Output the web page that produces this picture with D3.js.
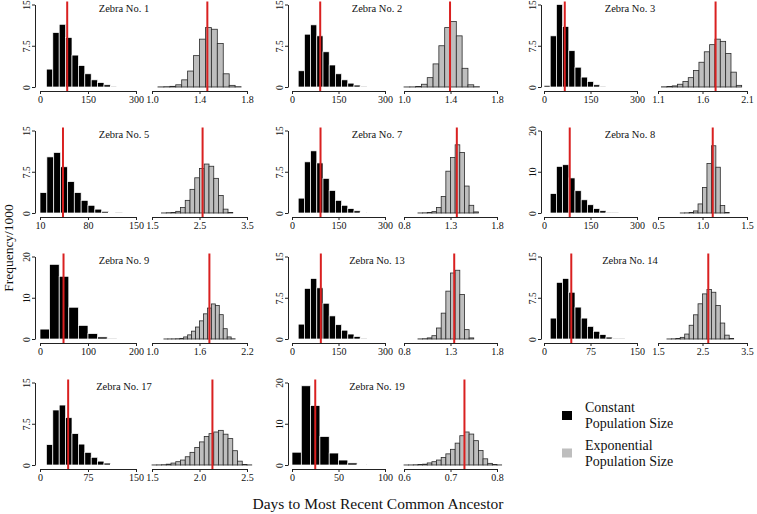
<!DOCTYPE html>
<html><head><meta charset="utf-8">
<script src="https://cdn.jsdelivr.net/npm/d3@7"></script>
<style>
body{margin:0;background:#fff}
svg{display:block}
text{font-family:"Liberation Serif","DejaVu Serif",serif;fill:#111}
</style>
</head><body><svg id="c" width="757" height="514"></svg>
<script>
const zebraNames = ["Zebra No. 1","Zebra No. 2","Zebra No. 3","Zebra No. 5","Zebra No. 7","Zebra No. 8","Zebra No. 9","Zebra No. 13","Zebra No. 14","Zebra No. 17","Zebra No. 19"];
const yTickLabels = [["0","7.5","15"],["0","7.5","15"],["0","7.5","15"],["0","7.5","15"],["0","7.5","15"],["0","10","20"],["0","10","20"],["0","7.5","15"],["0","7.5","15"],["0","7.5","15"],["0","10","20"]];
const constTickLabels = [["0","150","300"],["0","150","300"],["0","150","300"],["10","80","150"],["0","150","300"],["0","150","300"],["0","100","200"],["0","150","300"],["0","75","150"],["0","75","150"],["0","50","100"]];
const expTickLabels = [["1.0","1.4","1.8"],["1.0","1.4","1.8"],["1.1","1.6","2.1"],["1.5","2.5","3.5"],["0.8","1.3","1.8"],["0.5","1.0","1.5"],["1.0","1.6","2.2"],["0.8","1.3","1.8"],["1.5","2.5","3.5"],["1.5","2.0","2.5"],["0.6","0.7","0.8"]];
const constBinStart = [20,20,0,10,20,20,0,20,10,10,0];
const constBinWidth = [20,20,20,10,20,20,20,20,10,10,10];
const constCounts = [
  [3.25,9.9,11.4,9.0,5.8,3.9,2.4,1.3,0.8,0.4,0.15],
  [2.95,9.6,11.3,9.3,6.4,4.0,2.4,1.3,0.7,0.35,0.15],
  [0.3,9.3,15.0,11.0,6.6,3.6,1.8,1.0,0.4,0.15],
  [3.7,10.2,11.0,8.4,5.7,3.7,2.3,1.4,0.7,0.3,0.1,0.05],
  [2.7,9.3,11.3,9.1,6.3,4.1,2.3,1.4,0.8,0.4,0.1],
  [4.7,11.3,11.7,8.5,5.4,3.2,2.0,1.05,0.55,0.2,0.05],
  [2.4,18.1,15.2,7.7,3.3,1.3,0.5,0.05],
  [2.7,9.2,11.0,9.3,6.5,4.2,2.6,1.6,0.9,0.45,0.15],
  [3.8,10.3,11.0,8.5,5.8,3.8,2.3,1.4,0.8,0.35,0.15,0.05],
  [3.7,10.0,10.9,8.6,5.7,3.8,2.3,1.4,0.7,0.35,0.1],
  [3.1,19.2,14.4,6.9,2.9,1.2,0.5,0.15]
];
const expBinStart = [1.05,1.0,1.14,1.7,0.95,0.75,1.15,0.95,1.7,1.5,0.6];
const expBinWidth = [0.05,0.05,0.06,0.1,0.05,0.05,0.05,0.05,0.1,0.05,0.01];
const expCounts = [
  [0.02,0.05,0.12,0.4,1.3,2.9,5.7,8.7,10.8,10.5,7.9,2.4,0.3,0.05],
  [0.01,0.02,0.1,0.5,1.7,4.2,7.5,10.8,11.9,9.3,3.4,0.4,0.05],
  [0.03,0.08,0.2,0.5,1.0,1.7,3.0,4.5,6.4,7.7,8.7,8.3,6.1,2.7,0.3],
  [0.01,0.05,0.1,0.3,1.0,2.3,4.3,6.4,8.1,8.9,8.5,6.3,3.2,0.7,0.1],
  [0.01,0.03,0.08,0.25,1.0,3.0,7.6,10.1,12.4,11.0,4.9,1.4,0.2],
  [0.01,0.03,0.1,0.5,2.2,6.2,12.0,16.3,11.1,1.8,0.1],
  [0.01,0.02,0.03,0.06,0.15,0.5,1.0,1.9,2.9,4.4,6.1,7.5,8.5,8.1,5.9,2.5,0.5,0.05],
  [0.02,0.05,0.2,0.6,2.0,4.7,8.7,12.0,12.5,8.1,1.7,0.2],
  [0.01,0.03,0.1,0.3,0.9,2.5,4.4,6.4,8.2,9.0,8.5,6.1,2.9,0.7,0.1],
  [0.01,0.02,0.05,0.15,0.35,0.6,0.9,1.5,2.3,3.2,4.2,5.2,5.7,6.0,6.3,5.6,4.8,2.6,0.7,0.1,0.02],
  [0.01,0.02,0.05,0.1,0.2,0.5,0.8,1.2,1.8,2.7,3.8,5.3,7.1,8.0,7.5,5.9,3.5,1.5,0.4,0.1,0.02]
];
const redConst = [85,91,67,43.5,92,83,49,93,44,44,25];
const redExp = [1.466,1.396,1.747,2.565,1.368,1.115,1.725,1.34,2.63,2.136,0.73];
const legendLabels = [["Constant","Population Size"],["Exponential","Population Size"]];
const legendColors = ["#000000","#bebebe"];
const xTitle = "Days to Most Recent Common Ancestor";
const yTitle = "Frequency/1000";

// layout
const colAxisX = [35, 288, 541];
const colLeft = [[40,136],[292,385],[544,637]];
const colRight = [[152,247],[404,497],[658,747]];
const rowTop = [4.5, 130.5, 256.5, 382.5];
const rowZero = [87, 213, 339, 465];
const RED = "#d92020";
const SERIF = '"Liberation Serif", "DejaVu Serif", serif';

const svg = d3.select("#c");

zebraNames.forEach((name, i) => {
  const r = Math.floor(i / 3), c = i % 3;
  const ax = colAxisX[c];
  const yl = yTickLabels[i].map(Number);
  const y = d3.scaleLinear().domain([0, yl[2]]).range([rowZero[r], rowTop[r]]);
  const cl = constTickLabels[i].map(Number);
  const el = expTickLabels[i].map(Number);
  const xc = d3.scaleLinear().domain([cl[0], cl[2]]).range(colLeft[c]);
  const xe = d3.scaleLinear().domain([el[0], el[2]]).range(colRight[c]);
  const g = svg.append("g");
  const axisY = rowZero[r] + 4;

  g.append("g").selectAll("rect").data(constCounts[i]).join("rect")
    .attr("x", (d, j) => xc(constBinStart[i] + j * constBinWidth[i]))
    .attr("width", (d, j) => xc(constBinStart[i] + (j + 1) * constBinWidth[i]) - xc(constBinStart[i] + j * constBinWidth[i]))
    .attr("y", d => y(d))
    .attr("height", d => y(0) - y(d))
    .attr("fill", "#000").attr("stroke", "#fff").attr("stroke-width", 0.7);

  g.append("g").selectAll("rect").data(expCounts[i]).join("rect")
    .attr("x", (d, j) => xe(expBinStart[i] + j * expBinWidth[i]))
    .attr("width", (d, j) => xe(expBinStart[i] + (j + 1) * expBinWidth[i]) - xe(expBinStart[i] + j * expBinWidth[i]))
    .attr("y", d => y(d))
    .attr("height", d => y(0) - y(d))
    .attr("fill", "#bebebe").attr("stroke", "#2a2a2a").attr("stroke-width", 0.8);

  g.append("line").attr("x1", xc(redConst[i])).attr("x2", xc(redConst[i]))
    .attr("y1", rowTop[r] - 3).attr("y2", axisY).attr("stroke", RED).attr("stroke-width", 2);
  g.append("line").attr("x1", xe(redExp[i])).attr("x2", xe(redExp[i]))
    .attr("y1", rowTop[r] - 3).attr("y2", axisY).attr("stroke", RED).attr("stroke-width", 2);

  const ya = g.append("g").attr("transform", `translate(${ax},0)`)
    .call(d3.axisLeft(y).tickValues(yl).tickSize(3).tickSizeOuter(0).tickFormat((d, k) => yTickLabels[i][k]));
  ya.selectAll("text").attr("transform", "rotate(-90)").attr("x", 0).attr("y", -5.5).attr("dy", 0)
    .attr("text-anchor", "middle").style("font-size", "9.5px");
  ya.select(".domain").attr("stroke", "#222");
  ya.selectAll(".tick line").attr("stroke", "#222");

  const styleAxis = sel => {
    sel.attr("font-family", null);
    sel.selectAll("text").style("font-size", "10px");
    sel.select(".domain").attr("stroke", "#222");
    sel.selectAll(".tick line").attr("stroke", "#222");
  };
  ya.attr("font-family", null);
  g.append("g").attr("transform", `translate(0,${axisY})`)
    .call(d3.axisBottom(xc).tickValues(cl).tickSize(3).tickSizeOuter(0).tickPadding(2).tickFormat((d, k) => constTickLabels[i][k]))
    .call(styleAxis);
  g.append("g").attr("transform", `translate(0,${axisY})`)
    .call(d3.axisBottom(xe).tickValues(el).tickSize(3).tickSizeOuter(0).tickPadding(2).tickFormat((d, k) => expTickLabels[i][k]))
    .call(styleAxis);

  g.append("text").attr("x", ax + 89).attr("y", rowTop[r] + 7.5)
    .attr("text-anchor", "middle").style("font-size", "10.5px").text(name);
});

svg.append("text").attr("x", 378).attr("y", 509).attr("text-anchor", "middle")
  .style("font-size", "15.5px").text(xTitle);
svg.append("text").attr("transform", "translate(13,248) rotate(-90)").attr("text-anchor", "middle")
  .style("font-size", "13.5px").text(yTitle);

const lg = svg.append("g");
legendLabels.forEach((lab, k) => {
  const base = 412 + k * 37.5;
  lg.append("rect").attr("x", 562).attr("y", base - 1).attr("width", 10).attr("height", 9)
    .attr("fill", legendColors[k]);
  lab.forEach((t, m) => {
    lg.append("text").attr("x", 585).attr("y", base + m * 16).style("font-size", "14px").text(t);
  });
});

svg.selectAll("text").style("font-family", SERIF).style("font-weight", "normal").attr("fill", "#111");
</script>
</body></html>
